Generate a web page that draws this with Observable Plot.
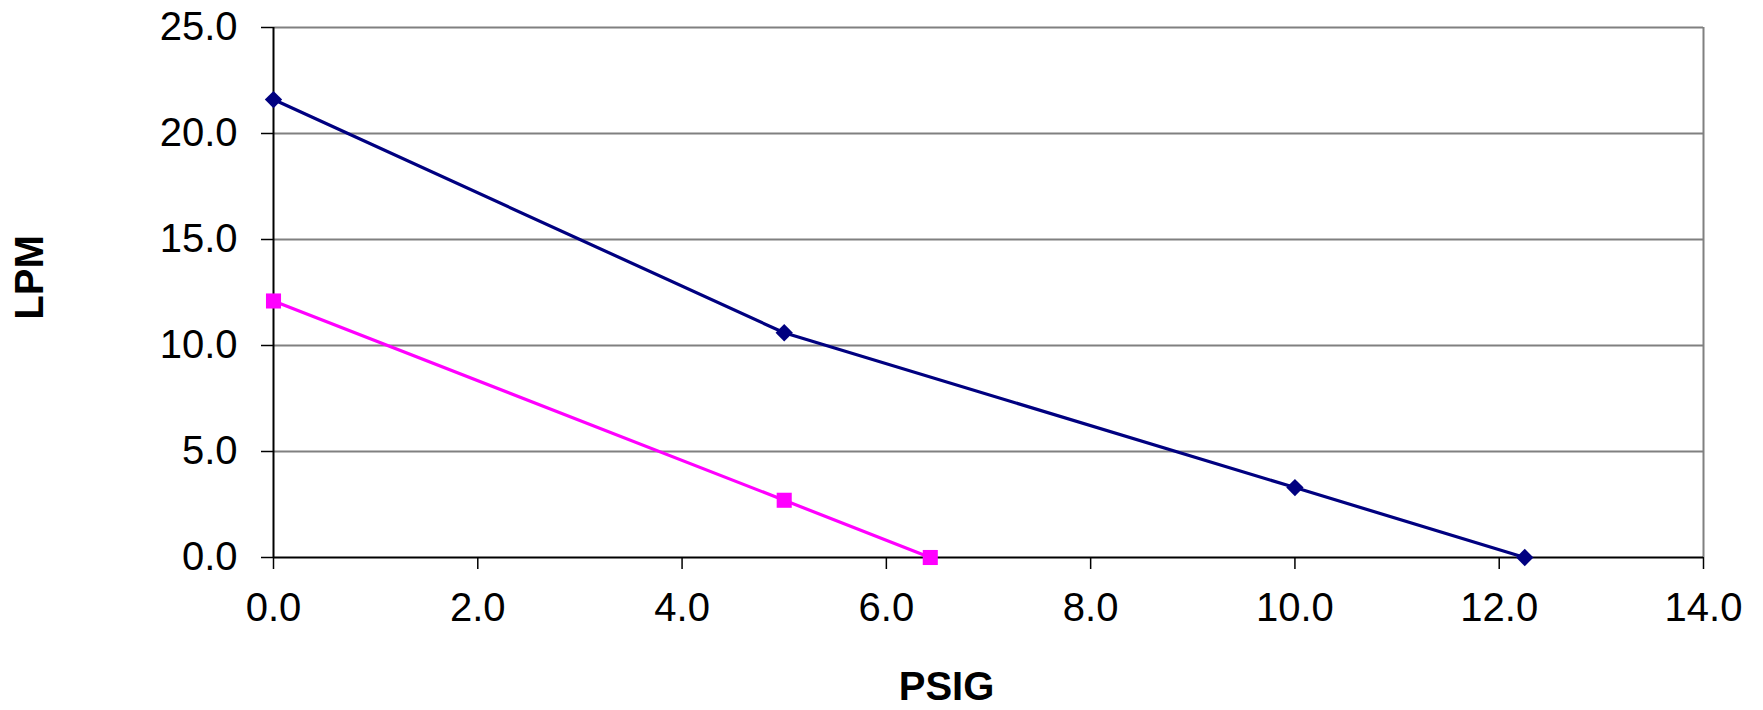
<!DOCTYPE html>
<html><head><meta charset="utf-8">
<script src="https://cdn.jsdelivr.net/npm/d3@7"></script>
<script src="https://cdn.jsdelivr.net/npm/@observablehq/plot@0.6"></script>
<style>body{margin:0;background:#fff}</style>
</head><body><div id="chart"></div>
<script>
const psigA = [0, 5, 10, 12.25];
const lpmA = [21.6, 10.6, 3.3, 0];
const psigB = [0, 5, 6.43];
const lpmB = [12.1, 2.7, 0];
const xTicks = [0, 2, 4, 6, 8, 10, 12, 14];
const yTicks = [0, 5, 10, 15, 20, 25];
const xTitle = "PSIG";
const yTitle = "LPM";

const seriesA = psigA.map((x, i) => ({x, y: lpmA[i]}));
const seriesB = psigB.map((x, i) => ({x, y: lpmB[i]}));
const fmt = d3.format(".1f");

const chart = Plot.plot({
  width: 1763, height: 710,
  marginLeft: 273, marginRight: 60, marginTop: 27, marginBottom: 153,
  style: {fontFamily: "'Liberation Sans', Arial, sans-serif", fontSize: "40px", background: "#fff", color: "#000"},
  x: {domain: [0, 14]},
  y: {domain: [0, 25]},
  marks: [
    Plot.ruleY(yTicks.filter(d => d > 0), {stroke: "#808080", strokeWidth: 2}),
    Plot.ruleX([14], {stroke: "#808080", strokeWidth: 2}),
    Plot.ruleX([0], {stroke: "#000", strokeWidth: 2}),
    Plot.ruleY([0], {stroke: "#000", strokeWidth: 2}),
    Plot.axisX(xTicks, {tickFormat: fmt, tickSize: 12, tickPadding: 23, fontSize: 40, stroke: "#000", strokeWidth: 1.5, label: null}),
    Plot.axisY(yTicks, {tickFormat: fmt, tickSize: 12, tickPadding: 24, fontSize: 40, stroke: "#000", strokeWidth: 1.5, label: null}),
    Plot.line(seriesA, {x: "x", y: "y", stroke: "#000080", strokeWidth: 3.2}),
    Plot.line(seriesB, {x: "x", y: "y", stroke: "#FF00FF", strokeWidth: 3.2}),
    Plot.dot(seriesA, {x: "x", y: "y", symbol: "diamond2", fill: "#000080", stroke: null, r: 7.8}),
    Plot.dot(seriesB, {x: "x", y: "y", symbol: "square", fill: "#FF00FF", stroke: null, r: 8.5}),
    Plot.text([yTitle], {frameAnchor: "left", dx: -243, dy: -15, rotate: -90, text: d => d, fontWeight: "bold", fontSize: 40, lineAnchor: "middle", textAnchor: "middle"}),
    Plot.text([xTitle], {frameAnchor: "bottom", dx: -42, dy: 130, text: d => d, fontWeight: "bold", fontSize: 40, lineAnchor: "middle", textAnchor: "middle"})
  ]
});
document.getElementById("chart").appendChild(chart);
</script>
</body></html>
